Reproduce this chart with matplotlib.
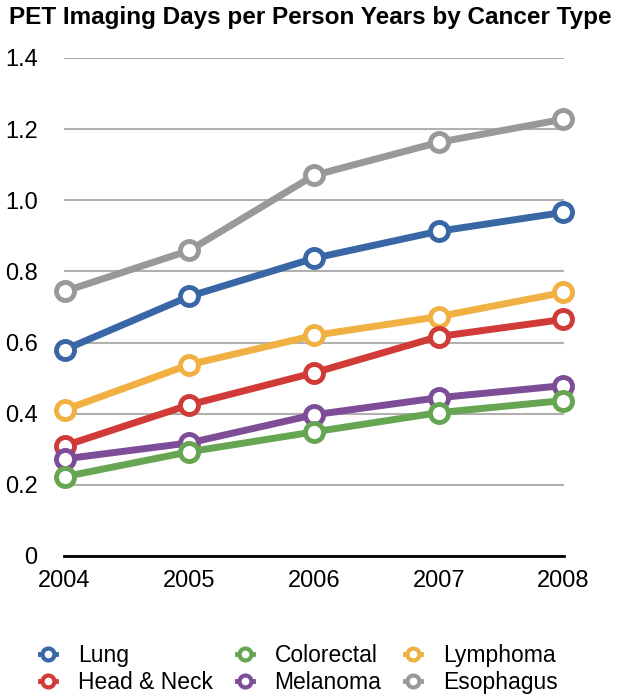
import matplotlib.pyplot as plt

years = [2004, 2005, 2006, 2007, 2008]
lung = [0.58, 0.73, 0.837, 0.913, 0.966]
head_neck = [0.31, 0.425, 0.515, 0.617, 0.665]
colorectal = [0.223, 0.293, 0.349, 0.403, 0.437]
melanoma = [0.273, 0.318, 0.397, 0.445, 0.479]
lymphoma = [0.411, 0.538, 0.62, 0.673, 0.741]
esophagus = [0.744, 0.859, 1.07, 1.163, 1.228]

y_ticks = [0, 0.2, 0.4, 0.6, 0.8, 1.0, 1.2, 1.4]
y_labels = ['0', '0.2', '0.4', '0.6', '0.8', '1.0', '1.2', '1.4']

plt.rcParams['font.family'] = ['Liberation Sans', 'DejaVu Sans']

fig = plt.figure(figsize=(6.24, 6.99), dpi=100)
ax = fig.add_axes([64 / 624, 143 / 699, 500 / 624, 498 / 699])

series = [
    ('Lung', lung, '#3967a5'),
    ('Head & Neck', head_neck, '#d13b37'),
    ('Colorectal', colorectal, '#66a552'),
    ('Melanoma', melanoma, '#7d4e97'),
    ('Lymphoma', lymphoma, '#f0b042'),
    ('Esophagus', esophagus, '#999999'),
]
zorders = {'Esophagus': 3, 'Lung': 4, 'Lymphoma': 5, 'Head & Neck': 6,
           'Melanoma': 7, 'Colorectal': 8}

for name, vals, color in series:
    ax.plot(years, vals, color=color, lw=5, marker='o', ms=13,
            mfc='white', mec=color, mew=3.5, clip_on=False,
            zorder=zorders[name], label=name)

ax.set_xlim(2003.995, 2008.005)
ax.set_ylim(0, 1.4)
ax.set_yticks(y_ticks)
ax.set_yticklabels(y_labels)
ax.set_xticks(years)
ax.set_xticklabels([str(y) for y in years])
ax.tick_params(axis='y', length=0, pad=19, labelsize=17)
ax.tick_params(axis='x', length=0, pad=10, labelsize=17)
ax.grid(axis='y', color='#b0b0b0', lw=1.5)
ax.set_axisbelow(True)
for s in ['top', 'right', 'left']:
    ax.spines[s].set_visible(False)
ax.spines['bottom'].set_color('black')
ax.spines['bottom'].set_linewidth(2)
ax.spines['bottom'].set_zorder(2)

fig.text(0.497, 0.975, 'PET Imaging Days per Person Years by Cancer Type',
         ha='center', va='center', fontsize=17.5, fontweight='bold')

# legend: short line stubs around a ring marker
handles = [plt.Line2D([], [], color=c, lw=3.5, marker='o', ms=8.6,
                      mfc='white', mec=c, mew=3) for _, _, c in series]
fig.legend(handles, [n for n, _, _ in series], ncol=3, loc='center',
           bbox_to_anchor=(0.479, 0.043), frameon=False, fontsize=16.5,
           handlelength=0.7, handletextpad=0.95, columnspacing=1.05,
           labelspacing=0.18)

plt.savefig('out.png', dpi=100)
